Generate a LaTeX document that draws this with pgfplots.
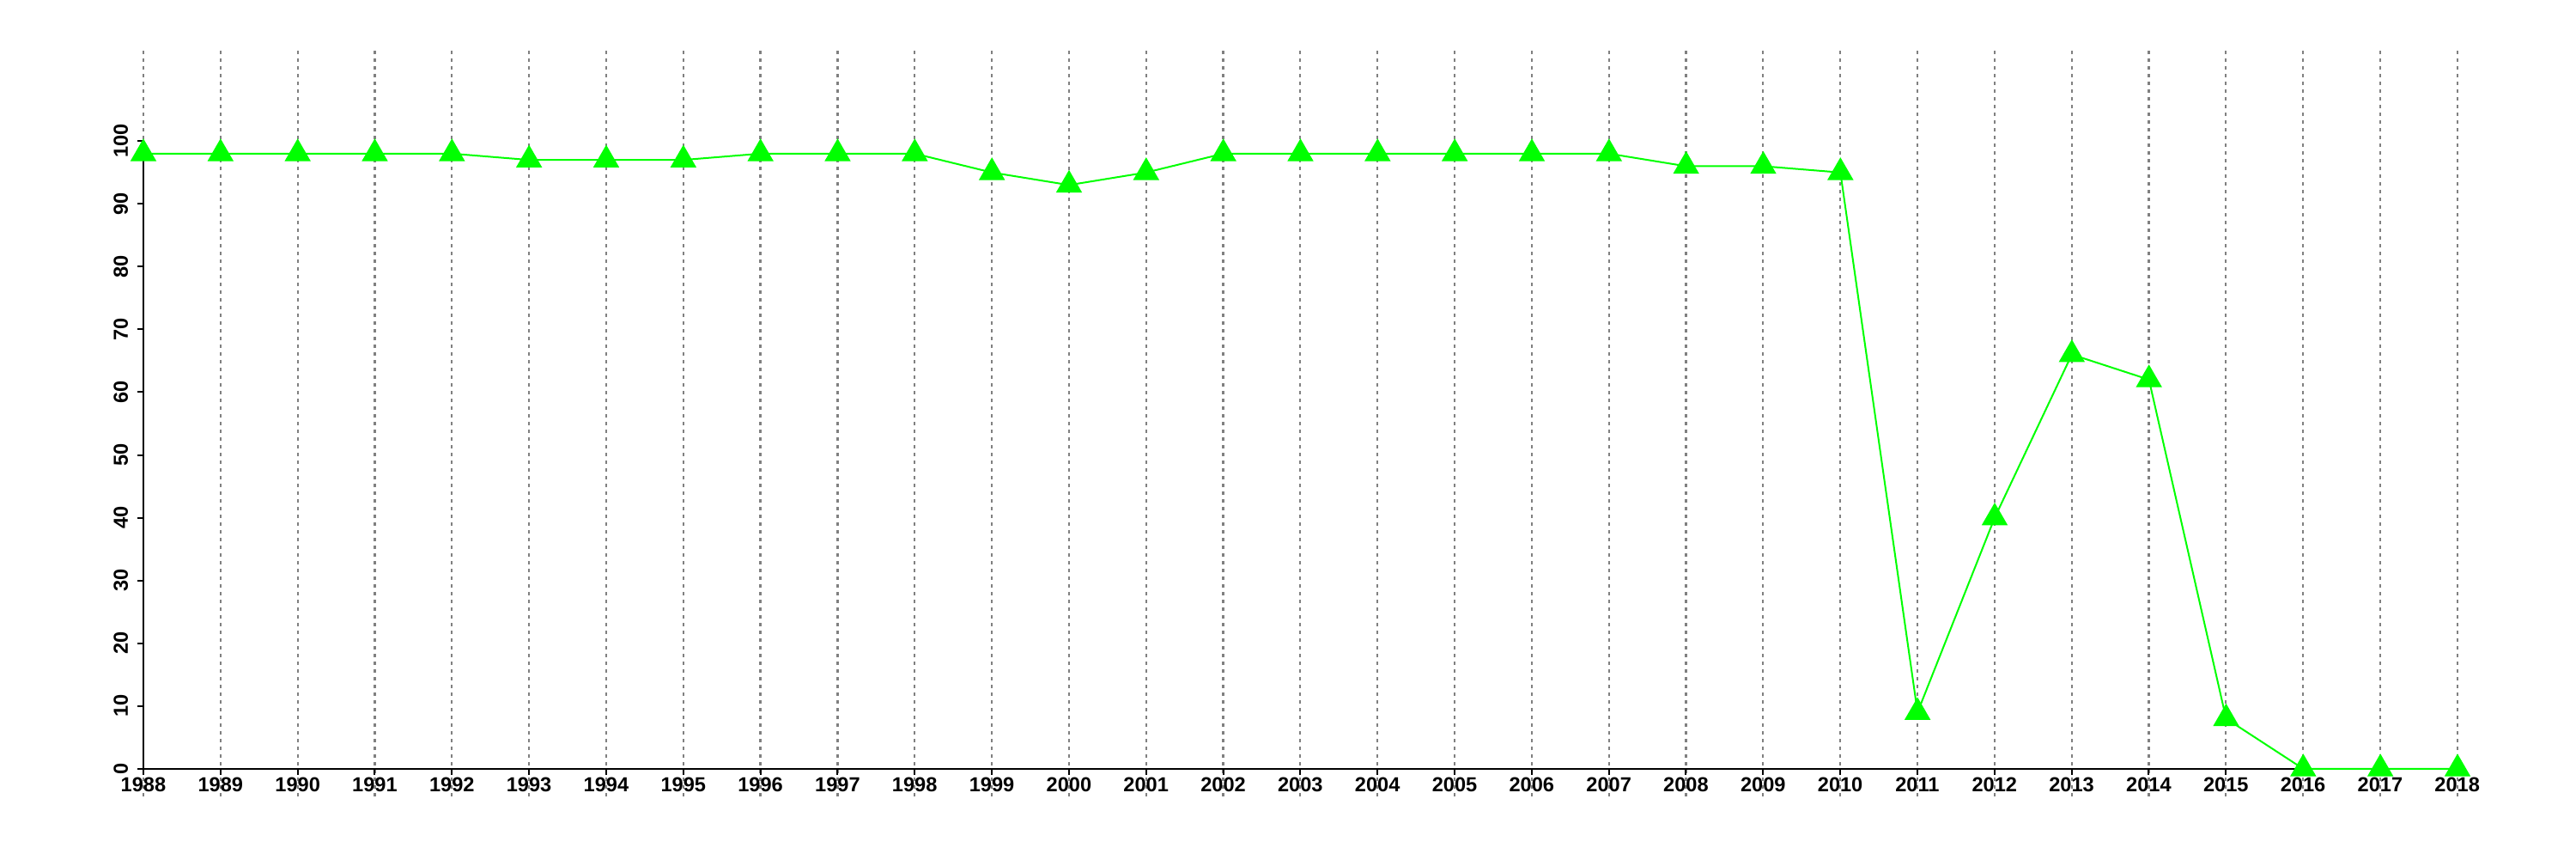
\documentclass[border=0pt]{standalone}
\usepackage{fontspec}
\setmainfont{Liberation Sans}
\usepackage{pgfplots}
\pgfplotsset{compat=1.18}
\definecolor{lime}{RGB}{0,255,0}
\definecolor{gridgray}{RGB}{128,128,128}
\begin{document}
\begin{tikzpicture}
\useasboundingbox (0,0) rectangle (750pt,250pt);
\begin{axis}[
  at={(41.75pt,18.25pt)}, anchor=south west,
  scale only axis, width=673.75pt, height=217pt,
  xmin=1988, xmax=2018, ymin=-4.4, ymax=114.4,
  clip=false,
  axis x line*=middle, axis y line*=left,
  x axis line style={line width=0.5pt, black},
  y axis line style={draw=none},
  hide obscured x ticks=false, hide obscured y ticks=false,
  xtick={1988,1989,...,2018},
  ytick={0,10,...,100},
  tick align=outside,
  major tick length=1.75pt,
  tick style={line width=0.5pt, black},
  xmajorgrids,
  major grid style={gridgray, line width=0.55pt, dash pattern=on 0.9pt off 1.35pt},
  /pgf/number format/.cd, 1000 sep={}, assume math mode=true, /pgfplots/.cd,
  tick label style={font=\bfseries\fontsize{5.9}{6}\selectfont},
  xticklabel style={anchor=north, inner sep=0pt, yshift=-0.5pt},
  yticklabel style={rotate=90, anchor=south, inner sep=0pt},
  yticklabel shift=2.5pt,
]
\addplot[black, line width=0.5pt, forget plot] coordinates {(1988,0) (1988,100)};
\addplot[lime, line width=0.5pt, mark=triangle*, mark size=3.9pt,
  mark options={fill=lime, draw=none, solid}] coordinates {
(1988,98) (1989,98) (1990,98) (1991,98) (1992,98) (1993,97) (1994,97) (1995,97)
(1996,98) (1997,98) (1998,98) (1999,95) (2000,93) (2001,95) (2002,98) (2003,98)
(2004,98) (2005,98) (2006,98) (2007,98) (2008,96) (2009,96) (2010,95) (2011,9)
(2012,40) (2013,66) (2014,62) (2015,8) (2016,0) (2017,0) (2018,0)
};
\end{axis}
\end{tikzpicture}
\end{document}
